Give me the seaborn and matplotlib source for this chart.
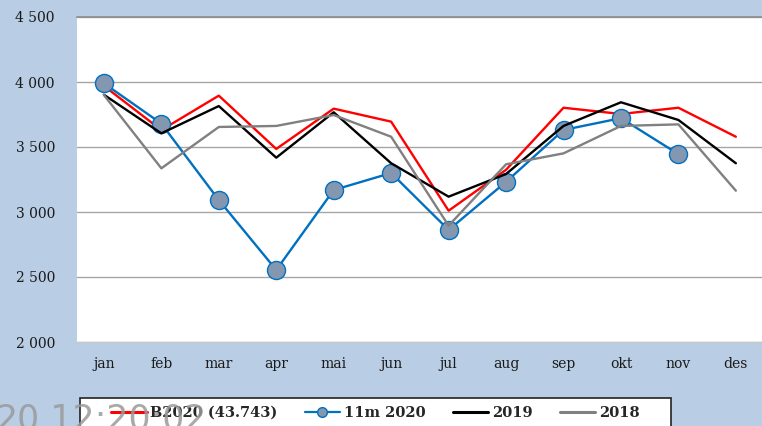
import matplotlib
matplotlib.use("Agg")
import matplotlib.pyplot as plt
from matplotlib.ticker import FuncFormatter, FixedLocator
from matplotlib.lines import Line2D
from matplotlib.patches import Rectangle
import seaborn as sns
import pandas as pd

# Monthly figures
months = ["jan", "feb", "mar", "apr", "mai", "jun", "jul", "aug", "sep", "okt", "nov", "des"]
b2020 = [3970, 3630, 3895, 3485, 3795, 3695, 3010, 3325, 3802, 3754, 3802, 3579]
m11_2020 = [3990, 3680, 3092, 2554, 3169, 3300, 2862, 3232, 3631, 3722, 3445]
y2019 = [3902, 3605, 3815, 3418, 3767, 3375, 3118, 3292, 3662, 3844, 3708, 3375]
y2018 = [3900, 3336, 3654, 3662, 3746, 3579, 2895, 3367, 3451, 3662, 3674, 3164]
series_names = ["B2020 (43.743)", "11m 2020", "2019", "2018"]
y_ticks = [2000, 2500, 3000, 3500, 4000, 4500]
stamp = "20.12:20:02"

BG = "#B9CDE4"
colors = {"B2020 (43.743)": "#FF0000", "11m 2020": "#0070C0",
          "2019": "#000000", "2018": "#808080"}

frames = []
for name, vals in zip(series_names, [b2020, m11_2020, y2019, y2018]):
    frames.append(pd.DataFrame({"pos": range(len(vals)), "value": vals, "series": name}))
df = pd.concat(frames, ignore_index=True)

sns.set_style("white")
plt.rcParams["font.family"] = ["DejaVu Serif"]

W, H = 762, 426
fig = plt.figure(figsize=(W / 100, H / 100), dpi=100, facecolor=BG)
ax = fig.add_axes([76.5 / W, 84 / H, 689.4 / W, 325 / H])
ax.set_facecolor("white")

for name in series_names:
    sub = df[df["series"] == name]
    if name == "11m 2020":
        sns.lineplot(data=sub, x="pos", y="value", ax=ax, color=colors[name],
                     linewidth=1.7, marker="o", markersize=13,
                     markerfacecolor="#8497B0", markeredgecolor="#0070C0",
                     markeredgewidth=1.0, legend=False)
    else:
        sns.lineplot(data=sub, x="pos", y="value", ax=ax, color=colors[name],
                     linewidth=1.7, legend=False)

ax.set_xlim(-0.477, 11.523)
ax.set_ylim(2000, 4500)
ax.yaxis.set_major_locator(FixedLocator(y_ticks))
ax.yaxis.set_major_formatter(FuncFormatter(lambda v, p: f"{int(v):,}".replace(",", " ")))
ax.set_xticks(range(len(months)))
ax.set_xticklabels(months)
ax.set_xlabel("")
ax.set_ylabel("")
ax.grid(axis="y", color="#A6A6A6", linewidth=1.0)
ax.set_axisbelow(True)
for s in ["left", "right"]:
    ax.spines[s].set_visible(False)
ax.spines["top"].set_color("#8C8C8C")
ax.spines["top"].set_linewidth(1.2)
ax.spines["bottom"].set_color("#C8C8C8")
ax.tick_params(axis="y", length=0, pad=15.5, labelsize=10, labelcolor="#1a1a1a")
ax.tick_params(axis="x", length=0, pad=11, labelsize=10, labelcolor="#1a1a1a")

# Legend frame, running past the lower edge of the figure
fig.patches.append(Rectangle((80 / W, -0.05), (671 - 80) / W, (H - 398) / H + 0.05,
                             transform=fig.transFigure, facecolor="white",
                             edgecolor="#222222", linewidth=1.2, zorder=3))

handles = []
for name in series_names:
    if name == "11m 2020":
        handles.append(Line2D([], [], color=colors[name], linewidth=1.6, marker="o",
                              markersize=7, markerfacecolor="#8497B0",
                              markeredgecolor="#0070C0"))
    else:
        handles.append(Line2D([], [], color=colors[name], linewidth=2.2))
leg = fig.legend(handles, series_names, ncol=4, loc="center left",
                 bbox_to_anchor=(111 / W, (H - 413) / H),
                 frameon=False, borderpad=0, borderaxespad=0,
                 handlelength=2.45, handletextpad=0.25, columnspacing=1.85,
                 prop={"family": ["DejaVu Serif"], "weight": "bold", "size": 10.5})
leg.set_zorder(4)

fig.text(-0.006, (H - 403) / H, stamp, ha="left", va="top", fontsize=25,
         color="#9a9a9a", family=["DejaVu Sans"], alpha=0.85, zorder=10)

fig.savefig("out.png", dpi=100, facecolor=BG)
